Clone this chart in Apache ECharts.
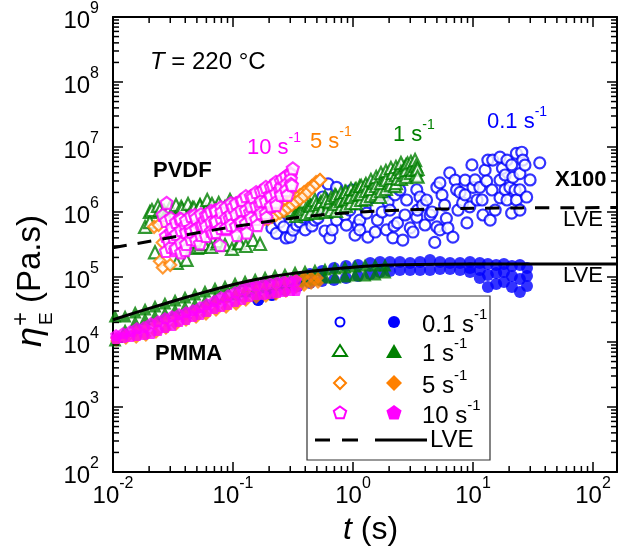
<!DOCTYPE html>
<html>
<head>
<meta charset="utf-8">
<script src="https://cdn.jsdelivr.net/npm/echarts@6/dist/echarts.min.js"></script>
<style>
  html, body { margin: 0; padding: 0; background: #fff; }
  #chart { width: 622px; height: 557px; }
</style>
</head>
<body>
<div id="chart"></div>
<script>
  var FONT = 'Liberation Sans, Arial, Helvetica, sans-serif';
  var X_MIN = 0.01, X_MAX = 158.49, Y_MIN = 1e2, Y_MAX = 1e9;

  // ---- PVDF (open symbols, shifted x100) ----
  // 0.1 s-1
  var pvdf01T = [0.23, 0.265, 0.30, 0.34, 0.38, 0.40, 0.44, 0.48, 0.53, 0.56, 0.62, 0.64, 0.67, 0.73, 0.73, 0.82, 0.88, 0.94, 1.04, 1.14,
    1.14, 1.30, 1.33, 1.45, 1.60, 1.80, 1.90, 2.03, 2.15, 2.24, 2.35, 2.60, 2.80, 3.0, 3.4, 3.45, 3.4, 3.8, 4.1, 4.4,
    4.8, 5.0, 5.0, 5.3, 5.3, 5.8, 6.0, 6.4, 6.8, 7.1, 7.3, 7.8, 8.2, 8.6, 8.9, 9.4, 9.8, 10, 10.8, 11.4,
    11.9, 12.6, 13, 13.3, 13.9, 14.6, 15.3, 16.8, 16.8, 16.8, 17.6, 18.5, 19.2, 19.2, 20.3, 21, 21, 21.5, 23, 23,
    24.6, 24.6, 24.6, 25.5, 26, 28, 36];
  var pvdf01Eta = [4.7e5, 5.9e5, 4.1e5, 6.3e5, 8.3e5, 5.3e5, 1.0e6, 7.5e5, 1.2e6, 1.7e6, 2.7e6, 4.0e5, 5.3e5, 2.4e6, 7.5e5, 1.7e6, 6.3e5, 1.07e6, 4.4e5, 7.5e5,
    5.3e5, 9.6e5, 4.1e5, 2.6e6, 7.5e5, 1.7e6, 5.3e5, 1.07e6, 4.0e5, 1.83e6, 6.8e5, 3.7e5, 1.53e6, 5.7e5, 2.2e6, 1.07e6, 8.3e5, 1.28e6, 1.53e6, 9.0e5,
    3.4e5, 2.4e6, 5.9e5, 5.3e5, 2.8e6, 1.28e6, 8.0e5, 4.0e6, 4.1e5, 3.1e6, 2.2e6, 2.0e6, 1.38e6, 3.1e6, 6.8e5, 1.2e6, 5.3e6, 2.4e6, 1.53e6, 2.4e6,
    1.53e6, 4.4e6, 3.0e6, 6.3e6, 7.5e5, 6.3e6, 1.07e6, 3.1e6, 1.65e6, 7.0e6, 4.7e6, 2.2e6, 6.3e6, 1.53e6, 2.4e6, 5.3e6, 9.6e5, 3.4e6, 8.0e6, 1.53e6,
    3.9e6, 2.2e6, 1.07e6, 8.3e6, 6.3e6, 1.7e6, 5.7e6];
  var pvdf01bT = [0.211, 0.246, 0.277, 0.316, 0.362, 0.406, 0.455, 0.511, 0.584, 0.668, 0.750, 0.858, 0.981, 1.10, 1.26, 1.39, 1.53, 1.75, 1.96, 2.20,
    2.46, 2.71, 3.16, 3.62, 3.98, 4.55, 5.52, 6.19, 7.50, 8.58, 10.4, 12.1, 14.4, 18.5, 22.4, 27.1, 29.9];
  var pvdf01bEta = [5.67e5, 7.02e5, 3.98e5, 5.28e5, 7.02e5, 9.31e5, 6.09e5, 8.09e5, 5.10e5, 1.0e6, 1.28e6, 8.99e5, 2.18e6, 6.31e5, 1.19e6, 1.64e6, 4.92e5, 1.0e6, 1.43e6, 6.09e5,
    2.18e6, 8.99e5, 4.92e5, 1.70e6, 6.31e5, 1.0e6, 1.83e6, 5.67e5, 1.07e6, 1.83e6, 3.11e6, 8.99e5, 2.18e6, 3.71e6, 2.18e6, 5.28e6, 3.11e6];

  // 1 s-1
  var pvdf1T = [0.0203, 0.0203, 0.0185, 0.0224, 0.0246, 0.0271, 0.0299, 0.034, 0.0362, 0.037, 0.041, 0.046, 0.05, 0.0531, 0.0531, 0.061, 0.0643, 0.074, 0.076, 0.0858,
    0.0944, 0.10, 0.114, 0.12, 0.139, 0.168, 0.203, 0.246, 0.271, 0.299, 0.329, 0.362, 0.398, 0.438, 0.482, 0.531, 0.584, 0.643, 0.708, 0.779,
    0.858, 0.858, 0.944, 1.04, 1.14, 1.14, 1.26, 1.39, 1.53, 1.68, 1.68, 1.85, 2.03, 2.15, 2.24, 2.35, 2.46, 2.71, 2.71, 2.85,
    3.15, 3.29, 3.45, 3.45];
  var pvdf1Eta = [1.0e6, 7.0e5, 5.9e5, 2.4e5, 1.07e6, 9.0e5, 1.15e6, 1.65e5, 3.3e5, 1.2e6, 1.83e5, 1.15e6, 9.0e5, 1.28e6, 2.9e5, 1.53e6, 1.0e6, 3.3e5, 1.38e6, 1.2e6,
    1.53e6, 1.28e6, 3.3e5, 1.07e6, 1.28e6, 1.2e6, 1.28e6, 1.07e6, 1.53e6, 1.2e6, 1.38e6, 1.07e6, 1.45e6, 1.28e6, 1.53e6, 1.33e6, 1.7e6, 1.45e6, 1.83e6, 1.6e6,
    2.05e6, 1.53e6, 1.7e6, 2.2e6, 1.9e6, 2.5e6, 2.5e6, 2.2e6, 2.8e6, 2.35e6, 1.7e6, 3.3e6, 2.8e6, 4.0e6, 2.5e6, 3.3e6, 4.6e6, 3.7e6, 4.8e6, 5.6e6,
    4.4e6, 6.3e6, 4.6e6, 3.5e6];
  var pvdf1TopT = [0.0211, 0.0237, 0.0266, 0.0299, 0.0335, 0.0376, 0.0422, 0.0473, 0.0531, 0.0596, 0.0668, 0.0750, 0.0841, 0.0944, 0.106, 0.119, 0.133, 0.150, 0.168, 0.188,
    0.211, 0.237, 0.266, 0.299];
  var pvdf1TopEta = [1.07e6, 1.24e6, 1.04e6, 1.19e6, 1.28e6, 1.11e6, 1.33e6, 1.15e6, 1.24e6, 1.07e6, 1.33e6, 1.19e6, 1.11e6, 1.28e6, 1.15e6, 1.24e6, 1.07e6, 1.28e6, 1.15e6, 1.04e6,
    1.19e6, 1.07e6, 1.15e6, 1.07e6];
  var pvdf1LowT = [0.0383, 0.0438, 0.0501, 0.0573, 0.0656, 0.0750, 0.0858, 0.0981, 0.112, 0.128, 0.147, 0.168];
  var pvdf1LowEta = [3.0e5, 3.45e5, 2.8e5, 3.22e5, 2.9e5, 3.58e5, 3.11e5, 2.7e5, 3.34e5, 3.0e5, 3.71e5, 3.22e5];
  var pvdf1BandT = [0.335, 0.369, 0.406, 0.447, 0.492, 0.541, 0.596, 0.656, 0.722, 0.794, 0.874, 0.962, 1.06, 1.17, 1.28, 1.41, 1.56, 1.71, 1.88, 2.07,
    2.28, 2.51, 2.77, 3.04, 3.35];
  var pvdf1Up = [9.65e5, 1.07e6, 1.11e6, 1.24e6, 1.28e6, 1.43e6, 1.48e6, 1.64e6, 1.76e6, 1.96e6, 2.03e6, 2.26e6, 2.26e6, 2.51e6, 2.70e6, 3.11e6, 3.45e6, 3.98e6, 4.27e6, 4.75e6,
    4.92e6, 5.67e6, 5.28e6, 5.88e6, 5.10e6];
  var pvdf1Lo = [8.68e5, 9.31e5, 9.31e5, 1.0e6, 9.65e5, 1.04e6, 1.0e6, 1.07e6, 1.04e6, 1.19e6, 1.24e6, 1.37e6, 1.37e6, 1.53e6, 1.58e6, 1.76e6, 1.89e6, 2.10e6, 2.26e6, 2.60e6,
    2.79e6, 3.22e6, 3.45e6, 3.98e6, 3.71e6];
  var pvdf1MidT = [0.722, 0.794, 0.874, 0.962, 1.06, 1.17, 1.28, 1.41, 1.56, 1.71, 1.88, 2.07, 2.28, 2.51, 2.77, 3.04, 3.35];
  var pvdf1Mid = [1.33e6, 1.48e6, 1.58e6, 1.70e6, 1.83e6, 1.89e6, 2.10e6, 2.26e6, 2.51e6, 2.79e6, 3.11e6, 3.34e6, 3.71e6, 4.12e6, 4.43e6, 4.59e6, 4.43e6];

  // 5 s-1
  var pvdf5T = [0.022, 0.024, 0.0246, 0.026, 0.026, 0.03, 0.04, 0.058, 0.086, 0.126, 0.185];
  var pvdf5Eta = [5.9e5, 6.3e5, 1.75e5, 3.4e5, 1.4e5, 1.53e5, 4.4e5, 5.3e5, 6.3e5, 7.0e5, 7.8e5];
  var pvdf5BandT = [0.196, 0.211, 0.228, 0.246, 0.266, 0.287, 0.310, 0.335, 0.362, 0.391, 0.422, 0.455, 0.492, 0.531];
  var pvdf5Up = [9.31e5, 1.0e6, 1.11e6, 1.19e6, 1.28e6, 1.43e6, 1.53e6, 1.70e6, 1.83e6, 2.03e6, 2.26e6, 2.51e6, 2.90e6, 3.11e6];
  var pvdf5Lo = [7.80e5, 8.38e5, 8.99e5, 9.65e5, 1.04e6, 1.15e6, 1.28e6, 1.43e6, 1.58e6, 1.76e6, 2.03e6, 2.34e6, 2.70e6, 3.11e6];

  // 10 s-1
  var pvdf10T = [0.028, 0.026, 0.031, 0.029, 0.033, 0.037, 0.04, 0.036, 0.04, 0.045, 0.048, 0.032, 0.044, 0.053, 0.056, 0.058, 0.062, 0.068, 0.071, 0.071,
    0.078, 0.08, 0.088, 0.094, 0.10, 0.108, 0.114, 0.12, 0.13, 0.139, 0.147, 0.16, 0.168, 0.18, 0.19, 0.203, 0.215, 0.23, 0.246, 0.26,
    0.285, 0.30, 0.31, 0.315];
  var pvdf10Eta = [1.38e6, 9.0e5, 5.7e5, 3.7e5, 2.6e5, 2.4e5, 2.6e5, 8.0e5, 6.3e5, 5.0e5, 9.0e5, 4.1e5, 5.3e5, 3.3e5, 6.3e5, 7.5e5, 9.0e5, 4.8e5, 7.0e5, 1.07e6,
    3.1e5, 1.0e6, 5.7e5, 8.0e5, 1.2e6, 4.4e5, 7.0e5, 1.53e6, 4.8e5, 1.0e6, 1.7e6, 6.3e5, 1.28e6, 2.2e6, 8.3e5, 1.83e6, 2.6e6, 1.28e6, 2.2e6, 3.3e6,
    1.83e6, 4.0e6, 2.6e6, 4.7e6];
  var pvdf10BandT = [0.0276, 0.0304, 0.0335, 0.0369, 0.0406, 0.0447, 0.0492, 0.0541, 0.0596, 0.0656, 0.0722, 0.0794, 0.0874, 0.0962, 0.106, 0.117, 0.128, 0.141, 0.156, 0.171,
    0.188, 0.207, 0.228, 0.251, 0.277, 0.304];
  var pvdf10Up = [7.27e5, 8.09e5, 7.02e5, 7.80e5, 7.53e5, 8.68e5, 8.09e5, 9.31e5, 8.99e5, 1.04e6, 1.04e6, 1.19e6, 1.19e6, 1.37e6, 1.37e6, 1.53e6, 1.76e6, 1.76e6, 2.03e6, 2.10e6,
    2.43e6, 2.43e6, 2.90e6, 3.0e6, 3.58e6, 3.84e6];
  var pvdf10Mid = [4.27e5, 4.92e5, 4.59e5, 5.28e5, 4.92e5, 5.67e5, 5.47e5, 6.31e5, 6.09e5, 7.02e5, 7.27e5, 8.09e5, 8.09e5, 9.31e5, 9.31e5, 1.07e6, 1.07e6, 1.24e6, 1.24e6, 1.48e6,
    1.48e6, 1.76e6, 1.96e6, 2.43e6, 2.70e6, 3.22e6];
  var pvdf10Lo = [2.51e5, 2.90e5, 2.80e5, 3.34e5, 3.22e5, 3.84e5, 3.71e5, 4.43e5, 4.27e5, 5.10e5, 4.92e5, 5.67e5, 5.47e5, 6.31e5, 6.09e5, 7.02e5, 6.77e5, 8.09e5, 7.80e5, 9.65e5,
    9.65e5, 1.24e6, 1.43e6, 1.83e6, 2.18e6, 2.70e6];

  var pvdfLveT = [0.01, 0.025, 0.063, 0.16, 0.4, 1, 2.5, 6.3, 16, 40, 158.49];
  var pvdfLveEta = [2.82e5, 3.8e5, 5.13e5, 6.76e5, 8.5e5, 9.8e5, 1.07e6, 1.12e6, 1.15e6, 1.16e6, 1.17e6];

  // ---- PMMA (filled symbols): upper and lower edge rows of each band ----
  var pmma01T = [0.162, 0.211, 0.271, 0.348, 0.438, 0.552, 0.695, 0.875, 1.10, 1.39, 1.68, 2.03, 2.46, 2.99, 3.62, 4.38, 5.31, 6.43, 7.79, 9.44,
    11.4, 13.3, 15.6, 18.1, 21.1, 24.6, 28.2];
  var pmma01Hi = [44300, 52900, 75300, 96500, 111000, 124000, 138000, 148000, 153000, 164000, 170000, 170000, 170000, 164000, 170000, 183000, 170000, 164000, 164000, 170000,
    164000, 158000, 153000, 158000, 148000, 153000, 138000];
  var pmma01Lo = [44300, 52900, 63100, 72700, 80900, 86800, 89900, 96500, 103600, 111000, 119000, 124000, 128000, 128000, 128000, 128000, 133000, 133000, 128000, 119000,
    96500, 70200, 78000, 83800, 70200, 58800, 72700];
  var pmma01TailT = [9.44, 11.4, 13.3, 15.6, 18.1, 21.1, 24.6, 28.2];
  var pmma01TailEta = [138000, 128000, 107300, 115000, 119000, 103600, 93200, 103600];

  var pmma1T = [0.0104, 0.0126, 0.0153, 0.0185, 0.0224, 0.0271, 0.0329, 0.0398, 0.0482, 0.0584, 0.0708, 0.0858, 0.104, 0.126, 0.153, 0.185, 0.224, 0.271, 0.329, 0.398,
    0.482, 0.584, 0.708, 0.858, 1.04, 1.26, 1.53, 1.85];
  var pmma1Hi = [25100, 25100, 28900, 32200, 35800, 39800, 44300, 49200, 54800, 60900, 67700, 72700, 80900, 86800, 93200, 100000, 107300, 111000, 119000, 124000,
    128000, 133000, 138000, 142000, 148000, 153000, 153000, 153000];
  var pmma1Lo = [10700, 15300, 20300, 22600, 25100, 27900, 31100, 34600, 38400, 42700, 47500, 51000, 54800, 60900, 65400, 70200, 75300, 78000, 83800, 89900,
    93200, 100000, 100000, 103600, 107300, 107300, 111000, 119000];

  var pmma5T = [0.0106, 0.0128, 0.0156, 0.0188, 0.0228, 0.0276, 0.0335, 0.0406, 0.0492, 0.0596, 0.0722, 0.0875, 0.106, 0.128, 0.156, 0.188, 0.228, 0.276, 0.335, 0.391,
    0.447, 0.511];
  var pmma5Hi = [11500, 12800, 14800, 16400, 18900, 21000, 23400, 26000, 30000, 34600, 39800, 45900, 52900, 60900, 67700, 72700, 75300, 83800, 93200, 100000,
    100000, 96500];
  var pmma5Lo = [10400, 11100, 11500, 12400, 13800, 15800, 18300, 21000, 23400, 26000, 30000, 33300, 37100, 42700, 47500, 49200, 52900, 58800, 67700, 72700,
    78000, 80900];

  var pmma10T = [0.0106, 0.0121, 0.0139, 0.0158, 0.0181, 0.0207, 0.0237, 0.0271, 0.031, 0.0355, 0.0406, 0.0464, 0.0531, 0.0607, 0.0695, 0.0794, 0.0909, 0.104, 0.119, 0.136,
    0.156, 0.178, 0.203, 0.233, 0.266, 0.304, 0.335];
  var pmma10Hi = [12800, 13800, 14800, 16400, 17000, 19600, 21000, 23400, 25100, 27000, 28900, 31100, 34600, 38400, 42700, 49200, 52900, 58800, 65400, 75300,
    75300, 78000, 80900, 83800, 86800, 86800, 89900];
  var pmma10Lo = [11500, 11900, 12400, 12800, 13300, 13800, 15300, 17000, 18300, 21000, 22600, 25100, 27000, 30000, 33300, 35800, 38400, 42700, 45900, 51000,
    54800, 54800, 56700, 58800, 60900, 63100, 63100];

  var pmmaLveT = [0.01, 0.0224, 0.059, 0.151, 0.363, 1, 2.5, 10, 158.49];
  var pmmaLveEta = [2.2e4, 3.5e4, 5.9e4, 9.1e4, 1.17e5, 1.41e5, 1.55e5, 1.58e5, 1.58e5];

  var BLUE = '#0000ff', GREEN = '#008000', ORANGE = '#ff8000', MAGENTA = '#ff00ff';
  var PENT = 'path://M0,-10L9.51,-3.09L5.88,8.09L-5.88,8.09L-9.51,-3.09Z';

  function pts(ts, es) {
    return ts.map(function (t, i) { return [t, es[i]]; });
  }

  // several [t, eta] lists merged and drawn in time order
  function merged() {
    var all = [];
    for (var i = 0; i < arguments.length; i++) all = all.concat(arguments[i]);
    return all.sort(function (a, b) { return a[0] - b[0]; });
  }

  function openSeries(name, data, symbol, color, size) {
    return {
      name: name, type: 'scatter', symbol: symbol, symbolSize: size, data: data,
      itemStyle: { color: '#fff', borderColor: color, borderWidth: 2.2 }, silent: true
    };
  }

  function filledSeries(name, data, symbol, color, size) {
    return {
      name: name, type: 'scatter', symbol: symbol, symbolSize: size, data: data,
      itemStyle: { color: color }, silent: true
    };
  }

  function powLabel(v) {
    var e = Math.log10(v), r = Math.round(e);
    if (Math.abs(e - r) > 1e-6) return '';
    return '{b|10}{s|' + r + '}';
  }

  var labelRich = {
    b: { fontSize: 24, fontFamily: FONT, color: '#000', lineHeight: 32, verticalAlign: 'bottom' },
    s: { fontSize: 16, fontFamily: FONT, color: '#000', lineHeight: 16, verticalAlign: 'top' }
  };

  // minor ticks of the log axes (2..9 in each decade)
  var xMinor = [], yMinor = [];
  for (var e = -2; e <= 2; e++) {
    for (var m = 2; m <= 9; m++) {
      var v = m * Math.pow(10, e);
      if (v < X_MAX) xMinor.push(v);
    }
  }
  for (var e2 = 2; e2 < 9; e2++) {
    for (var m2 = 2; m2 <= 9; m2++) yMinor.push(m2 * Math.pow(10, e2));
  }

  var tickStyle = { stroke: '#000', lineWidth: 1.5 };

  function rateText(x, y, main, color, size, supSize) {
    return {
      type: 'text', x: x, y: y, silent: true,
      style: {
        text: '{a|' + main + '}{s|-1}', verticalAlign: 'middle',
        rich: {
          a: { fontSize: size, fontFamily: FONT, fill: color, lineHeight: size + 6, verticalAlign: 'bottom' },
          s: { fontSize: supSize, fontFamily: FONT, fill: color, lineHeight: supSize, verticalAlign: 'top' }
        }
      }
    };
  }

  function plainText(x, y, str, size, weight) {
    return {
      type: 'text', x: x, y: y, silent: true,
      style: { text: str, fontSize: size, fontWeight: weight || 'normal', fontFamily: FONT, fill: '#000', verticalAlign: 'middle' }
    };
  }

  var myChart = echarts.init(document.getElementById('chart'), null, { renderer: 'canvas' });

  var axisCommon = {
    type: 'log', logBase: 10, interval: 1,
    axisLine: { lineStyle: { color: '#000', width: 2 } },
    axisTick: { inside: true, length: 10, lineStyle: { color: '#000', width: 1.5 } },
    splitLine: { show: false }
  };

  var option = {
    animation: false,
    backgroundColor: '#fff',
    grid: { left: 113, right: 5, top: 17, bottom: 85 },
    xAxis: [
      echarts.util.merge({ min: X_MIN, max: X_MAX, position: 'bottom',
        axisLabel: { formatter: powLabel, rich: labelRich, margin: 4, showMaxLabel: false } }, axisCommon),
      echarts.util.merge({ min: X_MIN, max: X_MAX, position: 'top', axisLabel: { show: false } }, axisCommon)
    ],
    yAxis: [
      echarts.util.merge({ min: Y_MIN, max: Y_MAX, position: 'left',
        axisLabel: { formatter: powLabel, rich: labelRich, margin: 14 } }, axisCommon),
      echarts.util.merge({ min: Y_MIN, max: Y_MAX, position: 'right', axisLabel: { show: false } }, axisCommon)
    ],
    series: [
      openSeries('PVDF 0.1', merged(pts(pvdf01T, pvdf01Eta), pts(pvdf01bT, pvdf01bEta)), 'circle', BLUE, 11),
      openSeries('PVDF 1', merged(pts(pvdf1T, pvdf1Eta), pts(pvdf1TopT, pvdf1TopEta), pts(pvdf1LowT, pvdf1LowEta),
        pts(pvdf1BandT, pvdf1Up), pts(pvdf1BandT, pvdf1Lo), pts(pvdf1MidT, pvdf1Mid)), 'triangle', GREEN, 12),
      openSeries('PVDF 5', merged(pts(pvdf5T, pvdf5Eta), pts(pvdf5BandT, pvdf5Up), pts(pvdf5BandT, pvdf5Lo)), 'diamond', ORANGE, 12),
      openSeries('PVDF 10', merged(pts(pvdf10T, pvdf10Eta), pts(pvdf10BandT, pvdf10Up), pts(pvdf10BandT, pvdf10Mid), pts(pvdf10BandT, pvdf10Lo)), PENT, MAGENTA, 12),
      filledSeries('PMMA 0.1', pts(pmma01T, pmma01Hi).concat(pts(pmma01T, pmma01Lo), pts(pmma01TailT, pmma01TailEta)), 'circle', BLUE, 12),
      filledSeries('PMMA 1', pts(pmma1T, pmma1Hi).concat(pts(pmma1T, pmma1Lo)), 'triangle', GREEN, 13),
      filledSeries('PMMA 5', pts(pmma5T, pmma5Hi).concat(pts(pmma5T, pmma5Lo)), 'diamond', ORANGE, 12),
      filledSeries('PMMA 10', pts(pmma10T, pmma10Hi).concat(pts(pmma10T, pmma10Lo)), PENT, MAGENTA, 12),
      {
        name: 'PVDF LVE', type: 'line', smooth: true, showSymbol: false, silent: true, z: 5,
        data: pts(pvdfLveT, pvdfLveEta),
        lineStyle: { color: '#000', width: 3, type: [14, 11] }
      },
      {
        name: 'PMMA LVE', type: 'line', smooth: true, showSymbol: false, silent: true, z: 5,
        data: pts(pmmaLveT, pmmaLveEta),
        lineStyle: { color: '#000', width: 3 }
      },
      {
        type: 'custom', silent: true, z: 6,
        data: xMinor.map(function (v) { return [v, 1e5]; }),
        renderItem: function (params, api) {
          var cs = params.coordSys;
          var px = api.coord([api.value(0), 1e5])[0];
          var b = cs.y + cs.height;
          return {
            type: 'group', children: [
              { type: 'line', shape: { x1: px, y1: b, x2: px, y2: b - 6 }, style: tickStyle },
              { type: 'line', shape: { x1: px, y1: cs.y, x2: px, y2: cs.y + 6 }, style: tickStyle }
            ]
          };
        }
      },
      {
        type: 'custom', silent: true, z: 6,
        data: yMinor.map(function (v) { return [1, v]; }),
        renderItem: function (params, api) {
          var cs = params.coordSys;
          var py = api.coord([1, api.value(1)])[1];
          var r = cs.x + cs.width;
          return {
            type: 'group', children: [
              { type: 'line', shape: { x1: cs.x, y1: py, x2: cs.x + 6, y2: py }, style: tickStyle },
              { type: 'line', shape: { x1: r, y1: py, x2: r - 6, y2: py }, style: tickStyle }
            ]
          };
        }
      }
    ],
    graphic: [
      {
        type: 'text', x: 150, y: 62, silent: true,
        style: {
          text: '{i|T} = 220 °C', fontSize: 24, fontFamily: FONT, fill: '#000', verticalAlign: 'middle',
          rich: { i: { fontSize: 24, fontFamily: FONT, fontStyle: 'italic', fill: '#000' } }
        }
      },
      plainText(153, 171, 'PVDF', 22, 'bold'),
      plainText(155, 354, 'PMMA', 22, 'bold'),
      plainText(555, 180, 'X100', 22, 'bold'),
      plainText(563, 220, 'LVE', 22),
      plainText(563, 276, 'LVE', 22),
      rateText(247, 145, '10 s', MAGENTA, 22, 14),
      rateText(310, 139, '5 s', ORANGE, 22, 14),
      rateText(393, 132, '1 s', GREEN, 22, 14),
      rateText(487, 119, '0.1 s', BLUE, 22, 14),
      // legend box
      {
        type: 'group', silent: true, z: 20,
        children: [
          { type: 'rect', shape: { x: 307, y: 296, width: 183, height: 164 }, style: { fill: '#fff', stroke: '#333', lineWidth: 1.2 } },
          { type: 'circle', shape: { cx: 340, cy: 322, r: 4.5 }, style: { fill: '#fff', stroke: BLUE, lineWidth: 2 } },
          { type: 'circle', shape: { cx: 394, cy: 322, r: 6 }, style: { fill: BLUE } },
          { type: 'polygon', shape: { points: [[333, 356], [347, 356], [340, 345]] }, style: { fill: '#fff', stroke: GREEN, lineWidth: 2 } },
          { type: 'polygon', shape: { points: [[386, 358], [402, 358], [394, 344]] }, style: { fill: GREEN } },
          { type: 'polygon', shape: { points: [[340, 377], [346, 383], [340, 389], [334, 383]] }, style: { fill: '#fff', stroke: ORANGE, lineWidth: 2 } },
          { type: 'polygon', shape: { points: [[394, 375], [402, 383], [394, 391], [386, 383]] }, style: { fill: ORANGE } },
          { type: 'polygon', shape: { points: [[340, 406.5], [346.2, 411], [343.8, 418.3], [336.2, 418.3], [333.8, 411]] }, style: { fill: '#fff', stroke: MAGENTA, lineWidth: 2 } },
          { type: 'polygon', shape: { points: [[394, 405], [401.6, 410.5], [398.7, 419.5], [389.3, 419.5], [386.4, 410.5]] }, style: { fill: MAGENTA } },
          { type: 'line', shape: { x1: 315, y1: 440, x2: 330, y2: 440 }, style: { stroke: '#000', lineWidth: 3 } },
          { type: 'line', shape: { x1: 342, y1: 440, x2: 358, y2: 440 }, style: { stroke: '#000', lineWidth: 3 } },
          { type: 'line', shape: { x1: 375, y1: 440, x2: 427, y2: 440 }, style: { stroke: '#000', lineWidth: 3 } },
          rateText(422, 322, '0.1 s', '#000', 24, 15),
          rateText(422, 351, '1 s', '#000', 24, 15),
          rateText(422, 383, '5 s', '#000', 24, 15),
          rateText(422, 413, '10 s', '#000', 24, 15),
          plainText(430, 440, 'LVE', 24)
        ]
      },
      // x axis title
      {
        type: 'text', x: 343, y: 530, silent: true,
        style: {
          text: '{i|t} (s)', fontSize: 32, fontFamily: FONT, fill: '#000', verticalAlign: 'middle',
          rich: { i: { fontSize: 32, fontFamily: FONT, fontStyle: 'italic', fill: '#000' } }
        }
      },
      // y axis title, rotated
      {
        type: 'group', x: 31, y: 347, rotation: Math.PI / 2, silent: true,
        children: [
          { type: 'text', x: 0, y: 0, style: { text: 'η', fontSize: 36, fontStyle: 'italic', fontFamily: FONT, fill: '#000', verticalAlign: 'middle' } },
          { type: 'text', x: 21, y: -10, style: { text: '+', fontSize: 24, fontFamily: FONT, fill: '#000', verticalAlign: 'middle' } },
          { type: 'text', x: 22, y: 16, style: { text: 'E', fontSize: 19, fontFamily: FONT, fill: '#000', verticalAlign: 'middle' } },
          { type: 'text', x: 44, y: 0, style: { text: '(Pa.s)', fontSize: 33, fontFamily: FONT, fill: '#000', verticalAlign: 'middle' } }
        ]
      }
    ]
  };

  myChart.setOption(option);
</script>
</body>
</html>
